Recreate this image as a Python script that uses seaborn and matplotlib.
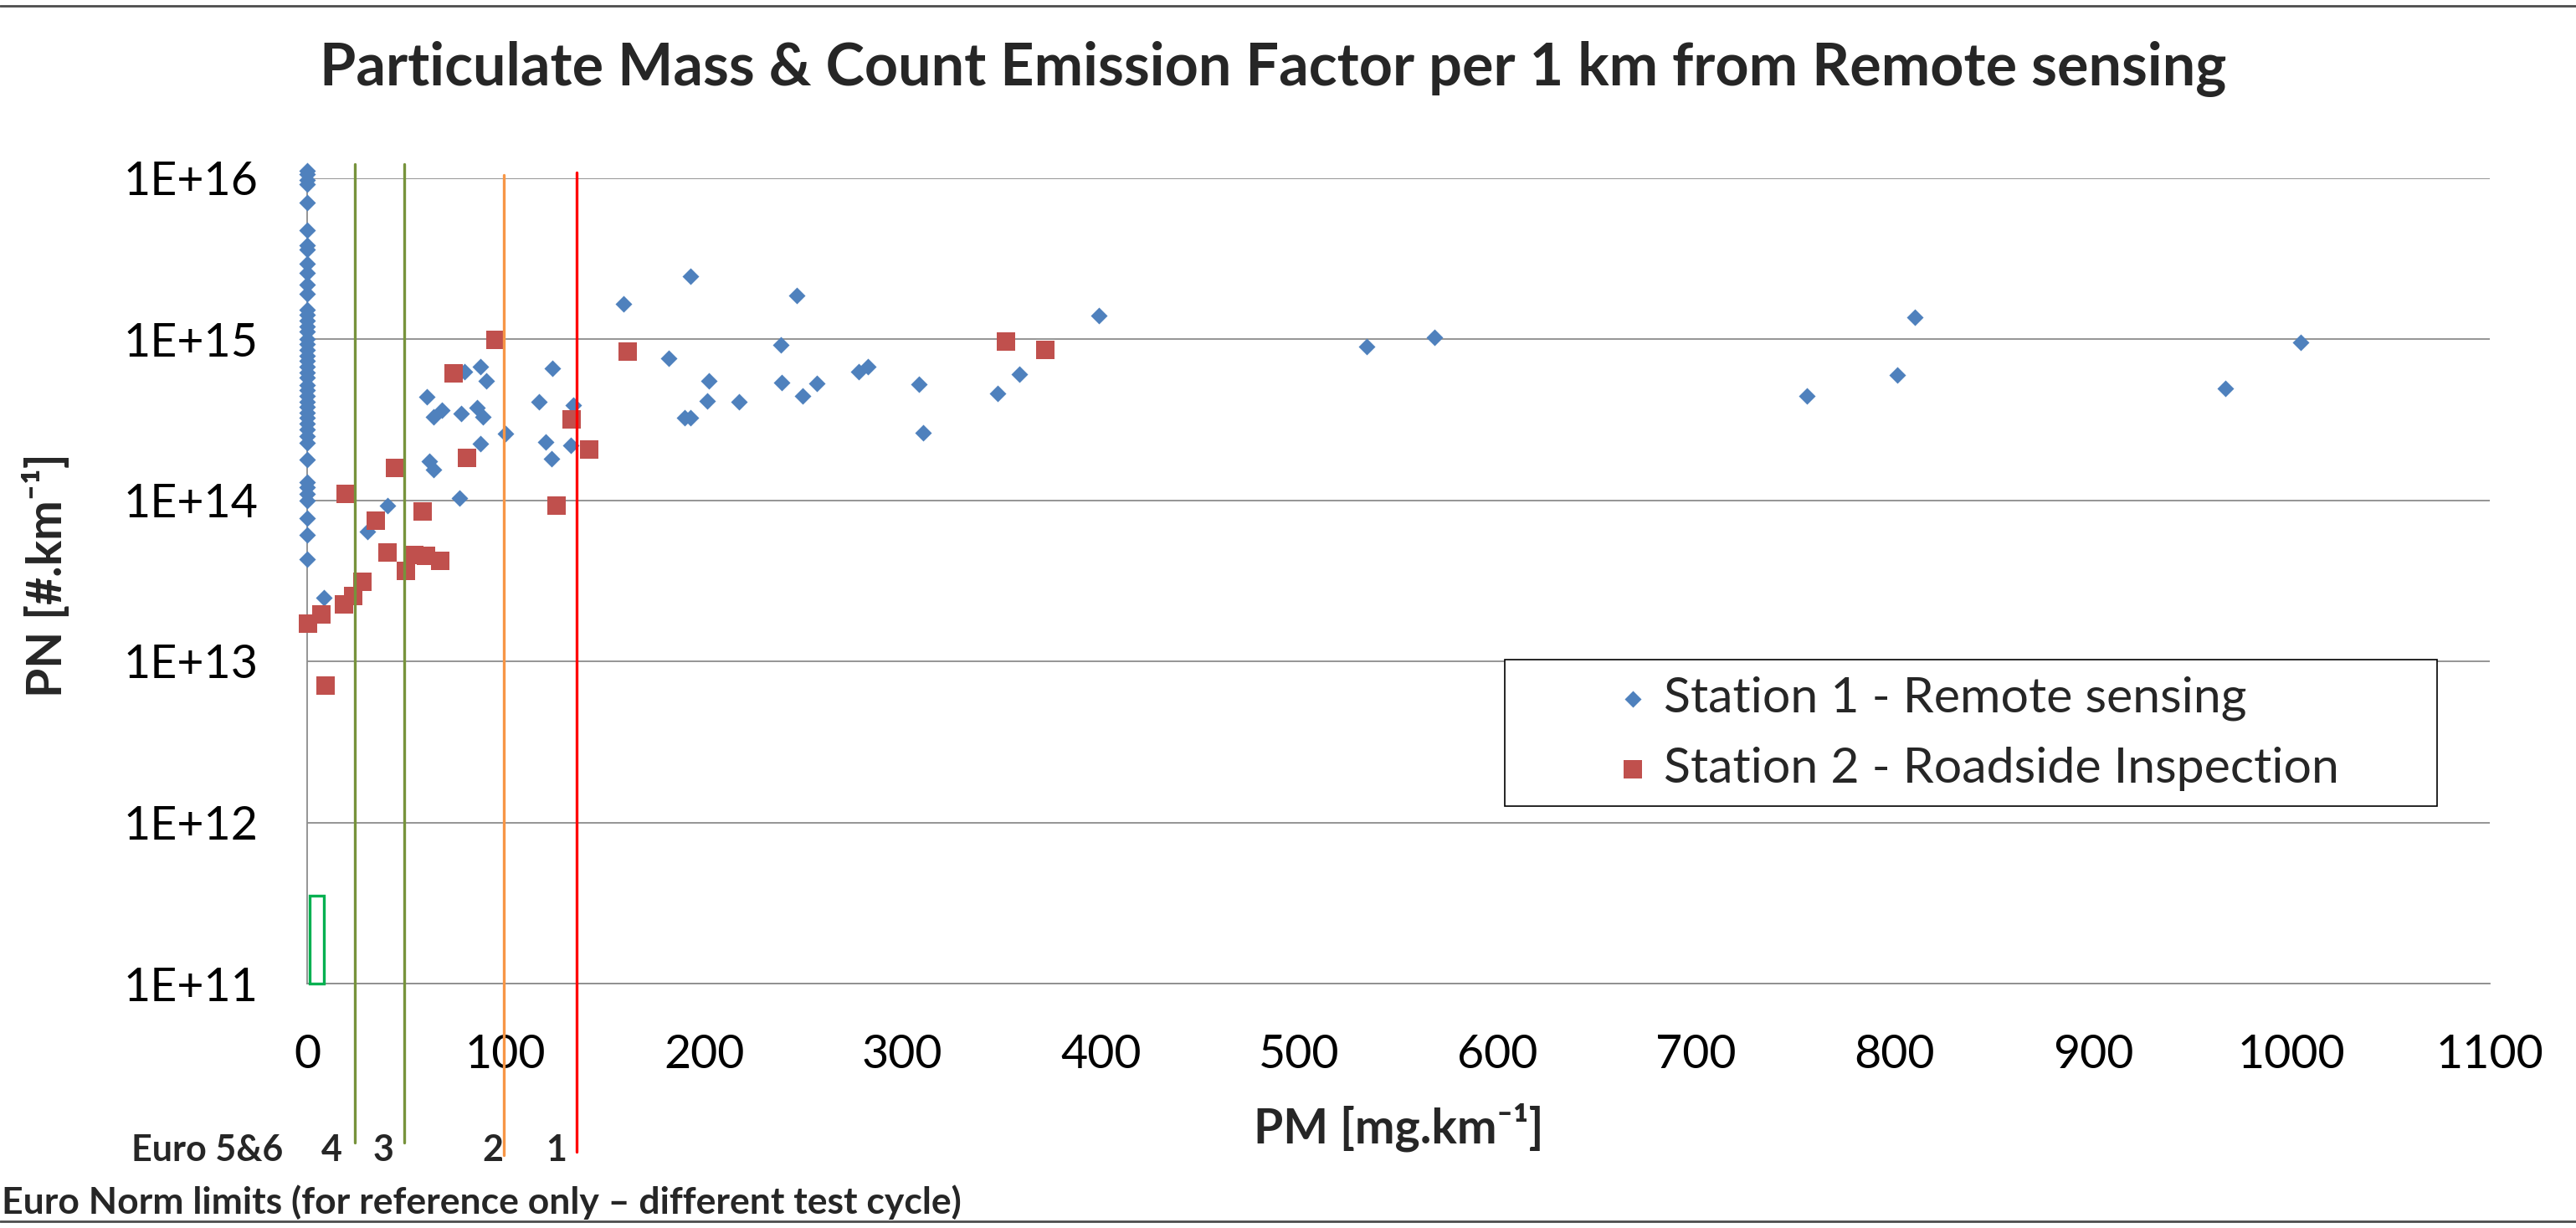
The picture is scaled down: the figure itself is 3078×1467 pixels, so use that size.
import matplotlib
matplotlib.use("Agg")
import matplotlib.pyplot as plt
import matplotlib.transforms as mtransforms
from matplotlib.patches import Rectangle
from matplotlib.lines import Line2D
from matplotlib.ticker import MultipleLocator, NullLocator
import numpy as np
import pandas as pd
import seaborn as sns

# ---------------- data ----------------
station1_label = "Station 1 - Remote sensing"
station2_label = "Station 2 - Roadside Inspection"

station1_pm = [
    0, 0, 0, 0, 0, 0, 0, 0, 0, 0, 0, 0, 0, 0, 0, 0, 0, 0, 0, 0, 0, 0,
    0, 0, 0, 0, 0, 0, 0, 0, 0, 0, 0, 0, 0, 0, 0, 0, 0, 0, 0, 0, 0, 0,
    8.5, 30.3, 40.6, 60.3, 63.8, 68.0, 61.4, 63.8, 79.3, 77.6, 76.9,
    87.3, 90.1, 85.6, 88.5, 87.3, 100.0, 123.7, 116.9, 120.1, 123.2,
    134.2, 132.8, 159.6, 193.0, 246.6, 238.7, 182.2, 202.4, 239.1,
    256.7, 277.9, 282.5, 249.6, 201.6, 217.7, 190.3, 193.0, 308.5,
    310.4, 347.9, 358.8, 398.8, 534.0, 568.2, 755.9, 801.5, 810.4,
    966.6, 1004.7,
]
station1_pn = [
    1.11e16, 1.05e16, 9.7e15, 9.1e15, 7.05e15, 4.73e15, 3.8e15, 3.58e15,
    2.94e15, 2.56e15, 2.18e15, 1.9e15, 1.52e15, 1.41e15, 1.3e15, 1.2e15,
    1.11e15, 1.0e15, 9.3e14, 8.6e14, 7.9e14, 7.3e14, 6.75e14, 6.2e14,
    5.75e14, 5.2e14, 4.8e14, 4.45e14, 4.1e14, 3.8e14, 3.5e14, 3.23e14,
    2.98e14, 2.75e14, 2.5e14, 2.26e14, 1.78e14, 1.29e14, 1.2e14, 1.1e14,
    1.0e14, 7.7e13, 6.1e13, 4.3e13,
    2.48e13, 6.4e13, 9.3e13, 4.4e14, 3.3e14, 3.6e14, 1.75e14, 1.55e14,
    6.3e14, 3.45e14, 1.03e14, 6.7e14, 5.5e14, 3.75e14, 3.3e14, 2.25e14,
    2.6e14, 6.6e14, 4.1e14, 2.3e14, 1.8e14, 3.9e14, 2.2e14, 1.65e15,
    2.45e15, 1.87e15, 9.2e14, 7.6e14, 5.5e14, 5.35e14, 5.3e14, 6.3e14,
    6.7e14, 4.46e14, 4.13e14, 4.08e14, 3.26e14, 3.26e14, 5.24e14,
    2.61e14, 4.57e14, 6.05e14, 1.4e15, 8.95e14, 1.02e15, 4.46e14,
    6.0e14, 1.36e15, 4.92e14, 9.5e14,
]

station2_pm = [
    0.4, 7.2, 9.3, 18.5, 23.2, 27.9, 19.4, 34.5, 40.3, 44.4, 49.7, 54.0,
    58.2, 60.0, 67.0, 73.7, 80.4, 94.8, 125.5, 133.2, 142.3, 161.4,
    352.0, 372.0,
]
station2_pn = [
    1.72e13, 1.95e13, 7.1e12, 2.26e13, 2.54e13, 3.13e13, 1.09e14, 7.5e13,
    4.75e13, 1.58e14, 3.65e13, 4.55e13, 8.5e13, 4.5e13, 4.2e13, 6.1e14,
    1.84e14, 9.9e14, 9.3e13, 3.16e14, 2.05e14, 8.4e14, 9.6e14, 8.6e14,
]

# Euro norm PM limit lines (mg/km) and their labels
euro_limit_pm = [24, 49, 99, 136]
euro_limit_labels = ["4", "3", "2", "1"]
euro_limit_colors = ["#77933C", "#77933C", "#F79646", "#FF0000"]
# Euro 5&6 box (PM range, PN range)
euro56_pm = (1.1, 8.5)
euro56_pn = (1e11, 3.5e11)

x_ticks = [0, 100, 200, 300, 400, 500, 600, 700, 800, 900, 1000, 1100]
x_tick_labels = [str(v) for v in x_ticks]
y_ticks = [1e11, 1e12, 1e13, 1e14, 1e15, 1e16]
y_tick_labels = ["1E+11", "1E+12", "1E+13", "1E+14", "1E+15", "1E+16"]

title = "Particulate Mass & Count Emission Factor per 1 km from Remote sensing"
x_label = "PM [mg.km\u207b\u00b9]"
y_label = "PN [#.km\u207b\u00b9]"
euro56_text = "Euro 5&6"
footnote = "Euro Norm limits (for reference only \u2013 different test cycle)"

# ---------------- style ----------------
sns.set_style("white")
plt.rcParams["font.family"] = ["Lato", "DejaVu Sans"]

W, H = 3078, 1467
fig = plt.figure(figsize=(W / 100, H / 100), dpi=100)
fig.patch.set_facecolor("white")

ax_left, ax_right = 367, 2975
ax_top, ax_bottom = 212.5, 1175
ax = fig.add_axes([ax_left / W, 1 - ax_bottom / H,
                   (ax_right - ax_left) / W, (ax_bottom - ax_top) / H])

df1 = pd.DataFrame({"PM": station1_pm, "PN": station1_pn})
df2 = pd.DataFrame({"PM": station2_pm, "PN": station2_pn})

sns.scatterplot(data=df1, x="PM", y="PN", marker="D", s=104, color="#4F81BD",
                linewidth=0, ax=ax, clip_on=False, zorder=4, label=station1_label)
sns.scatterplot(data=df2, x="PM", y="PN", marker="s", s=240, color="#C0504D",
                linewidth=0, ax=ax, clip_on=False, zorder=4.5, label=station2_label)

ax.set_yscale("log")
ax.set_xlim(x_ticks[0], x_ticks[-1])
ax.set_ylim(y_ticks[0], y_ticks[-1])

grid_c = "#8C8C8C"
ax.set_yticks(y_ticks)
ax.set_yticklabels(y_tick_labels)
ax.yaxis.set_minor_locator(NullLocator())
ax.set_xticks(x_ticks)
ax.set_xticklabels(x_tick_labels)
ax.xaxis.set_minor_locator(MultipleLocator(50))

ax.tick_params(axis="both", which="major", direction="out", length=14.4,
               width=1.3, color=grid_c, labelsize=40, pad=29, labelcolor="black")
ax.tick_params(axis="x", which="minor", direction="out", length=10.8,
               width=1.3, color=grid_c)
ax.tick_params(axis="y", which="major", pad=28)

ax.yaxis.grid(True, which="major", color=grid_c, linewidth=1.3, zorder=0)
ax.xaxis.grid(False)
ax.set_axisbelow(True)
for side in ["top", "right"]:
    ax.spines[side].set_visible(False)
for side in ["left", "bottom"]:
    ax.spines[side].set_color(grid_c)
    ax.spines[side].set_linewidth(1.3)
    ax.spines[side].set_zorder(1)

ax.set_xlabel(x_label, fontsize=41, fontweight="bold")
ax.xaxis.set_label_coords(0.5, (ax_bottom - 1318) / (ax_bottom - ax_top))
ax.xaxis.label.set_va("top")
ax.set_ylabel(y_label, fontsize=41, fontweight="bold")
ax.yaxis.set_label_coords((84 - ax_left) / (ax_right - ax_left), 0.507)

# Euro norm lines (extend above and below the plot area)
line_top_px = [196, 196, 209, 206]
line_bot_px = [1365, 1365, 1380, 1376]
blend = mtransforms.blended_transform_factory(ax.transData, fig.transFigure)
label_offsets = [-11, -9, 0, -9]
for v, lab, c, tp, bp, off in zip(euro_limit_pm, euro_limit_labels, euro_limit_colors,
                                  line_top_px, line_bot_px, label_offsets):
    ax.axvline(v, ymin=(ax_bottom - bp) / (ax_bottom - ax_top),
               ymax=(ax_bottom - tp) / (ax_bottom - ax_top),
               color=c, linewidth=2.4, clip_on=False, zorder=5)
    ax.annotate(lab, xy=(v, 1 - 1387 / H), xycoords=blend,
                xytext=(off, 0), textcoords="offset points",
                ha="right", va="baseline", fontsize=31, fontweight="bold",
                annotation_clip=False)

ax.add_patch(Rectangle((euro56_pm[0], euro56_pn[0]), euro56_pm[1] - euro56_pm[0],
                       euro56_pn[1] - euro56_pn[0], fill=False,
                       edgecolor="#00B050", linewidth=2.4, zorder=5, clip_on=False))

# legend: frame drawn as a box, entries placed inside
ax.add_patch(Rectangle((1798 / W, 1 - 963 / H), 1114 / W, 175 / H,
                       transform=fig.transFigure, facecolor="white",
                       edgecolor="black", linewidth=1.2, zorder=6, clip_on=False))
handles, labels = ax.get_legend_handles_labels()
leg = ax.legend(handles, labels, loc="center left",
                bbox_to_anchor=(1929 / W, 1 - 876 / H), bbox_transform=fig.transFigure,
                frameon=False, fontsize=42.5, handlelength=0.75, handletextpad=0.25,
                borderpad=0, borderaxespad=0, labelspacing=0.52)
leg.set_zorder(7)

fig.text(1521 / W, 1 - 101.7 / H, title, ha="center", va="baseline",
         fontsize=50.5, fontweight="bold")
fig.text(157 / W, 1 - 1387 / H, euro56_text, ha="left", va="baseline",
         fontsize=31, fontweight="bold")
fig.text(2 / W, 1 - 1450 / H, footnote, ha="left", va="baseline",
         fontsize=32, fontweight="bold")

# top and bottom border lines of the chart area
fig.add_artist(Line2D([0, 1], [1 - 7 / H, 1 - 7 / H], transform=fig.transFigure,
                      color="#4D4D4D", linewidth=2))
fig.add_artist(Line2D([0, 1], [1 - 1459 / H, 1 - 1459 / H], transform=fig.transFigure,
                      color="#4D4D4D", linewidth=2))

fig.savefig("out.png", dpi=100, facecolor="white")
